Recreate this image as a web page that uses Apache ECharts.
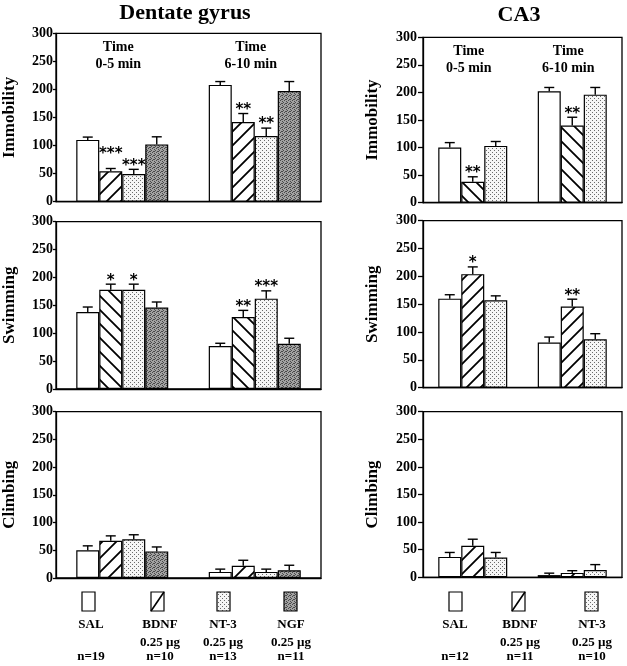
<!DOCTYPE html>
<html><head><meta charset="utf-8">
<script src="https://cdn.jsdelivr.net/npm/echarts@6/dist/echarts.min.js"></script>
<style>html,body{margin:0;padding:0;background:#fff}#c{width:627px;height:666px}</style>
</head><body><div id="c"></div>
<script>
// ---------- data ----------
const timeCats = ['0-5 min', '6-10 min'];
const timeWord = 'Time';
const yTicks = [0, 50, 100, 150, 200, 250, 300];
const groupsDG = ['SAL', 'BDNF', 'NT-3', 'NGF'];
const dosesDG = ['', '0.25 µg', '0.25 µg', '0.25 µg'];
const nDG = ['n=19', 'n=10', 'n=13', 'n=11'];
const groupsCA3 = ['SAL', 'BDNF', 'NT-3'];
const dosesCA3 = ['', '0.25 µg', '0.25 µg'];
const nCA3 = ['n=12', 'n=11', 'n=10'];
const titleDG = 'Dentate gyrus';
const titleCA3 = 'CA3';
const measures = ['Immobility', 'Swimming', 'Climbing'];

// per group: [0-5 min, 6-10 min]
const dgImmMean  = [[110, 208], [54, 142], [49, 117], [102, 197]];
const dgImmSem   = [[5, 6], [5, 15], [8.5, 14], [13.5, 17]];
const dgImmStars = [['', ''], ['***', '**'], ['***', '**'], ['', '']];

const dgSwimMean  = [[138, 77], [178, 129], [178, 162], [146, 81]];
const dgSwimSem   = [[9, 5], [10, 12], [10, 14], [10, 10]];
const dgSwimStars = [['', ''], ['*', '**'], ['*', '***'], ['', '']];

const dgClimbMean  = [[50, 11], [67, 22], [70, 11], [48, 14]];
const dgClimbSem   = [[8, 5], [9, 10], [8, 5], [8, 9]];
const dgClimbStars = [['', ''], ['', ''], ['', ''], ['', '']];

const caImmMean  = [[100, 202], [38, 140], [103, 196]];
const caImmSem   = [[9, 7], [9, 15], [8, 13]];
const caImmStars = [['', ''], ['**', '**'], ['', '']];

const caSwimMean  = [[160, 81], [204, 146], [157, 87]];
const caSwimSem   = [[7, 10], [13, 13], [8, 10]];
const caSwimStars = [['', ''], ['*', '**'], ['', '']];

const caClimbMean  = [[37, 4], [57, 8], [36, 13]];
const caClimbSem   = [[8, 3.5], [12, 4], [9, 10]];
const caClimbStars = [['', ''], ['', ''], ['', '']];

// ---------- patterns ----------
function hatch(dir) {
  const s = 14, c = document.createElement('canvas'); c.width = s; c.height = s;
  const x = c.getContext('2d'); x.fillStyle = '#fff'; x.fillRect(0, 0, s, s);
  x.strokeStyle = '#000'; x.lineWidth = 1.8; x.beginPath();
  if (dir === '/') {
    x.moveTo(-2, s + 2); x.lineTo(s + 2, -2);
    x.moveTo(-2, 2); x.lineTo(2, -2);
    x.moveTo(s - 2, s + 2); x.lineTo(s + 2, s - 2);
  } else {
    x.moveTo(-2, -2); x.lineTo(s + 2, s + 2);
    x.moveTo(s - 2, -2); x.lineTo(s + 2, 2);
    x.moveTo(-2, s - 2); x.lineTo(2, s + 2);
  }
  x.stroke();
  return { image: c, repeat: 'repeat' };
}
function stipple(bg, dot, pts, size) {
  const c = document.createElement('canvas'); c.width = size; c.height = size;
  const x = c.getContext('2d'); x.fillStyle = bg; x.fillRect(0, 0, size, size);
  x.fillStyle = dot; pts.forEach(p => x.fillRect(p[0], p[1], 1, 1));
  return { image: c, repeat: 'repeat' };
}
const lightDots = stipple('#f6f6f6', '#6a6a6a', [[0, 0], [2, 2]], 4);
const darkDots = stipple('#a2a2a2', '#4a4a4a', [[0, 0], [2, 1], [1, 3], [3, 2], [2, 3]], 4);
function fillsFor(dir, n) {
  const f = ['#ffffff', hatch(dir), lightDots, darkDots];
  return f.slice(0, n);
}

// ---------- layout ----------
const BW = 23;
const SERIF = '"Liberation Serif","Times New Roman",serif';
const panels = [
  { grid: { left: 50, top: 33.3, width: 271, height: 168.3 }, mean: dgImmMean, sem: dgImmSem, stars: dgImmStars, dir: '/', name: measures[0], gap: 38, time: true },
  { grid: { left: 50, top: 221.7, width: 271, height: 167.3 }, mean: dgSwimMean, sem: dgSwimSem, stars: dgSwimStars, dir: '\\', name: measures[1], gap: 38 },
  { grid: { left: 50, top: 411.7, width: 271, height: 166.3 }, mean: dgClimbMean, sem: dgClimbSem, stars: dgClimbStars, dir: '/', name: measures[2], gap: 38 },
  { grid: { left: 423, top: 37.3, width: 199, height: 165.4 }, mean: caImmMean, sem: caImmSem, stars: caImmStars, dir: '\\', name: measures[0], gap: 42, time: true },
  { grid: { left: 423, top: 220.7, width: 199, height: 167 }, mean: caSwimMean, sem: caSwimSem, stars: caSwimStars, dir: '/', name: measures[1], gap: 42 },
  { grid: { left: 423, top: 411.7, width: 199, height: 165.6 }, mean: caClimbMean, sem: caClimbSem, stars: caClimbStars, dir: '/', name: measures[2], gap: 42 }
];

const grids = [], xAxes = [], yAxes = [], series = [];
panels.forEach((p, pi) => {
  const n = p.mean.length;
  grids.push(Object.assign({ show: true, borderColor: '#000', borderWidth: 1.3, backgroundColor: 'transparent' }, p.grid));
  xAxes.push({ type: 'category', gridIndex: pi, data: timeCats, axisLine: { lineStyle: { color: '#000', width: 1.3 } }, axisTick: { show: false }, axisLabel: { show: false } });
  yAxes.push({
    type: 'value', gridIndex: pi, min: yTicks[0], max: yTicks[yTicks.length - 1], interval: 50,
    name: p.name, nameLocation: 'middle', nameGap: p.gap, nameRotate: 90,
    nameTextStyle: { fontFamily: SERIF, fontWeight: 'bold', fontSize: 17, color: '#000' },
    axisLine: { show: true, lineStyle: { color: '#000', width: 1.3 } },
    axisTick: { show: true, length: pi < 3 ? 3 : 5, lineStyle: { color: '#000', width: 1.3 } },
    axisLabel: { fontFamily: SERIF, fontWeight: 'bold', fontSize: 14, color: '#000', margin: pi < 3 ? 3 : 6 },
    splitLine: { show: false }
  });
  const fills = fillsFor(p.dir, n);
  for (let g = 0; g < n; g++) {
    series.push({
      type: 'bar', xAxisIndex: pi, yAxisIndex: pi, data: p.mean[g], barWidth: BW, barGap: '0%',
      itemStyle: { color: fills[g], borderColor: '#000', borderWidth: 1.2 }, silent: true, animation: false, z: 2
    });
  }
  const eb = [];
  for (let c = 0; c < 2; c++) for (let g = 0; g < n; g++) eb.push([c, g, p.mean[g][c], p.sem[g][c]]);
  series.push({
    type: 'custom', xAxisIndex: pi, yAxisIndex: pi, data: eb, encode: { x: 0, y: 2 }, z: 5, silent: true, animation: false,
    renderItem: function (params, api) {
      const c = api.value(0), g = api.value(1), m = api.value(2), s = api.value(3);
      const base = api.coord([c, m]), top = api.coord([c, m + s]);
      const x = base[0] + (g - (n - 1) / 2) * BW;
      const children = [
        { type: 'line', shape: { x1: x, y1: base[1], x2: x, y2: top[1] }, style: { stroke: '#000', lineWidth: 1.4 } },
        { type: 'line', shape: { x1: x - 5, y1: top[1], x2: x + 5, y2: top[1] }, style: { stroke: '#000', lineWidth: 1.4 } }
      ];
      const st = p.stars[g][c];
      if (st) {
        let lift = 0;
        const nx = p.stars[g + 1] ? p.stars[g + 1][c] : '';
        if (nx) {
          const nTop = api.coord([c, p.mean[g + 1][c] + p.sem[g + 1][c]])[1];
          if (Math.abs(nTop - top[1]) < 15 && (st.length + nx.length) * 7.5 / 2 > BW - 4) lift = 11;
        }
        children.push({ type: 'text', x: x, y: top[1] + 4 - lift, style: { text: st, font: 'bold 15px "DejaVu Sans",sans-serif', fill: '#000', textAlign: 'center', textVerticalAlign: 'bottom' } });
      }
      return { type: 'group', children: children };
    }
  });
  if (p.time) {
    series.push({
      type: 'custom', xAxisIndex: pi, yAxisIndex: pi, data: [[0, 300], [1, 300]], encode: { x: 0, y: 1 }, z: 6, silent: true, animation: false,
      renderItem: function (params, api) {
        const c = api.value(0), q = api.coord([c, 300]);
        const f = 'bold 14px ' + SERIF;
        return { type: 'group', children: [
          { type: 'text', x: q[0] - 4, y: q[1] + 14, style: { text: timeWord, font: f, fill: '#000', textAlign: 'center', textVerticalAlign: 'middle' } },
          { type: 'text', x: q[0] - 4, y: q[1] + 31, style: { text: timeCats[c], font: f, fill: '#000', textAlign: 'center', textVerticalAlign: 'middle' } }
        ] };
      }
    });
  }
});

// ---------- titles and legend (graphic) ----------
const graphic = [];
const tfont = 'bold 22px ' + SERIF;
graphic.push({ type: 'text', x: 185, y: 13, style: { text: titleDG, font: tfont, fill: '#000', textAlign: 'center', textVerticalAlign: 'middle' } });
graphic.push({ type: 'text', x: 519, y: 15, style: { text: titleCA3, font: tfont, fill: '#000', textAlign: 'center', textVerticalAlign: 'middle' } });

function legendItems(groups, doses, ns, boxX, labelX) {
  const lf = 'bold 13px ' + SERIF;
  const fills = ['#ffffff', '#ffffff', lightDots, darkDots];
  groups.forEach((gname, i) => {
    graphic.push({ type: 'rect', shape: { x: boxX[i], y: 592, width: 13, height: 19 }, style: { fill: fills[i], stroke: '#000', lineWidth: 1.2 } });
    if (i === 1) graphic.push({ type: 'line', shape: { x1: boxX[i], y1: 611, x2: boxX[i] + 13, y2: 592 }, style: { stroke: '#000', lineWidth: 1.6 } });
    graphic.push({ type: 'text', x: labelX[i], y: 625, style: { text: gname, font: lf, fill: '#000', textAlign: 'center', textVerticalAlign: 'middle' } });
    if (doses[i]) graphic.push({ type: 'text', x: labelX[i], y: 643, style: { text: doses[i], font: lf, fill: '#000', textAlign: 'center', textVerticalAlign: 'middle' } });
    graphic.push({ type: 'text', x: labelX[i], y: 657, style: { text: ns[i], font: lf, fill: '#000', textAlign: 'center', textVerticalAlign: 'middle' } });
  });
}
legendItems(groupsDG, dosesDG, nDG, [82, 151, 217, 284], [91, 160, 223, 291]);
legendItems(groupsCA3, dosesCA3, nCA3, [449, 512, 585], [455, 520, 592]);

const chart = echarts.init(document.getElementById('c'), null, { renderer: 'canvas' });
chart.setOption({ animation: false, backgroundColor: '#fff', grid: grids, xAxis: xAxes, yAxis: yAxes, series: series, graphic: graphic });
</script>
</body></html>
